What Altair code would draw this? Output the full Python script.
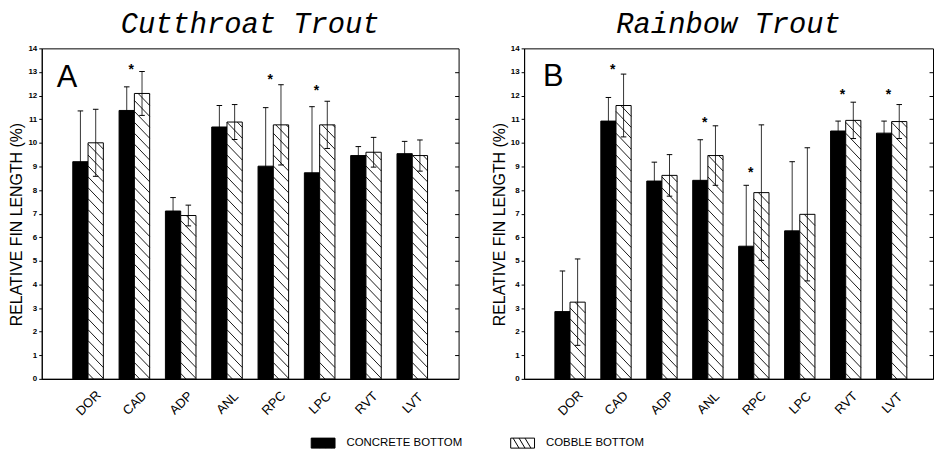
import altair as alt
import pandas as pd

# ---------------- data ----------------
fins = ["DOR", "CAD", "ADP", "ANL", "RPC", "LPC", "RVT", "LVT"]
bottoms = ["CONCRETE BOTTOM", "COBBLE BOTTOM"]

cut_concrete_mean = [9.20, 11.37, 7.11, 10.67, 9.01, 8.73, 9.46, 9.54]
cut_concrete_sd = [2.15, 1.00, 0.57, 0.91, 2.48, 2.80, 0.38, 0.52]
cut_cobble_mean = [10.00, 12.09, 6.92, 10.88, 10.76, 10.76, 9.60, 9.46]
cut_cobble_sd = [1.42, 0.93, 0.44, 0.74, 1.70, 1.00, 0.63, 0.66]
cut_star_fins = ["CAD", "RPC", "LPC"]
cut_star_height = [13.23, 12.83, 12.37]

rb_concrete_mean = [2.85, 10.92, 8.38, 8.41, 5.62, 6.27, 10.50, 10.41]
rb_concrete_sd = [1.72, 1.00, 0.80, 1.72, 2.58, 2.93, 0.42, 0.51]
rb_cobble_mean = [3.25, 11.58, 8.62, 9.46, 7.89, 6.97, 10.95, 10.90]
rb_cobble_sd = [1.83, 1.33, 0.88, 1.26, 2.87, 2.82, 0.77, 0.72]
rb_star_fins = ["CAD", "ANL", "RPC", "RVT", "LVT"]
rb_star_height = [13.23, 11.02, 8.90, 12.18, 12.20]

y_ticks = list(range(0, 15))
right_ticks = list(range(1, 14))

# ---------------- styling constants ----------------
PLOT_H = 333
Y_MAX = 14
BAR_W = 0.33
KY = PLOT_H / Y_MAX          # px per y unit
HATCH_STEP = 11.0           # px between hatch lines
HATCH_DROP = 16.0           # px a hatch line falls across one bar
SWATCH = "M-1,-0.42H1V0.42H-1Z M-0.8,-0.42L-0.3,0.42 M-0.3,-0.42L0.2,0.42 M0.2,-0.42L0.7,0.42"


def hatch_segments(means):
    segs = []
    for i, v in enumerate(means):
        h = v * KY
        c = HATCH_STEP / 2
        while c < h + HATCH_DROP:
            t0 = max(0.0, (c - h) / HATCH_DROP)
            t1 = min(1.0, c / HATCH_DROP)
            if t1 > t0:
                segs.append({
                    "hx1": i + t0 * BAR_W, "hy1": (c - HATCH_DROP * t0) / KY,
                    "hx2": i + t1 * BAR_W, "hy2": (c - HATCH_DROP * t1) / KY,
                })
            c += HATCH_STEP
    return pd.DataFrame(segs)


label_expr = "[" + ",".join(f"'{f}'" for f in fins) + "][datum.value]"

legend_a = alt.Legend(
    title=None, orient="none", legendX=271, legendY=385, direction="horizontal",
    symbolType=SWATCH, symbolSize=576, symbolStrokeColor="black", symbolStrokeWidth=1,
    labelFontSize=11.5, labelFont="Liberation Sans", labelColor="black",
    labelOffset=11, columnPadding=46,
)


def build_panel(title, letter, lx, ly, c_mean, c_sd, k_mean, k_sd, star_fins, star_h,
                width, x_max, legend):
    n = len(fins)
    bars = pd.DataFrame({
        "fin": fins * 2,
        "idx": list(range(n)) * 2,
        "bottom": [bottoms[0]] * n + [bottoms[1]] * n,
        "mean": c_mean + k_mean,
        "sd": c_sd + k_sd,
    })
    base = (
        alt.Chart(bars)
        .transform_calculate(x0=f"datum.idx - (datum.bottom === '{bottoms[0]}' ? {BAR_W} : 0)")
        .transform_calculate(x1=f"datum.x0 + {BAR_W}")
        .transform_calculate(xc=f"datum.x0 + {BAR_W / 2}")
        .transform_calculate(cl="datum.xc - 0.06")
        .transform_calculate(cr="datum.xc + 0.06")
        .transform_calculate(lo="datum.mean - datum.sd")
        .transform_calculate(hi="datum.mean + datum.sd")
        .transform_calculate(zero="0")
    )
    xscale = alt.Scale(domain=[-1, x_max], nice=False, zero=False)
    yscale = alt.Scale(domain=[0, Y_MAX], nice=False)
    xaxis = alt.Axis(
        values=list(range(n)), labelExpr=label_expr, title=None, labelAngle=-45,
        labelAlign="center", labelBaseline="middle", labelPadding=24, tickSize=0,
        labelFontSize=13, labelFont="Liberation Sans", domainWidth=1.5,
        labelOverlap=False, grid=False,
    )
    yaxis = alt.Axis(
        values=y_ticks, title="RELATIVE FIN LENGTH (%)", titleFontSize=16,
        titleFontWeight="normal", titleFont="Liberation Sans", titlePadding=3,
        titleY=177,
        labelFontSize=8, labelFontWeight="bold", labelFont="Liberation Sans",
        tickSize=3, labelPadding=2, grid=False, labelOverlap=False,
    )
    raxis = alt.Axis(
        orient="right", values=right_ticks, labels=False, domain=False, title=None,
        tickSize=4, offset=-4, grid=False,
    )

    rects = base.mark_rect(stroke="black", strokeWidth=1).encode(
        x=alt.X("x0:Q", scale=xscale, axis=xaxis),
        x2="x1:Q",
        y=alt.Y("mean:Q", scale=yscale, axis=yaxis),
        y2="zero:Q",
        fill=alt.Fill("bottom:N", scale=alt.Scale(domain=bottoms, range=["black", "white"]), legend=legend),
    )
    hatch = alt.Chart(hatch_segments(k_mean)).mark_rule(color="black", strokeWidth=0.9).encode(
        x=alt.X("hx1:Q", scale=xscale, axis=xaxis),
        x2="hx2:Q",
        y=alt.Y("hy1:Q", scale=yscale, axis=raxis),
        y2="hy2:Q",
    )
    err = base.mark_rule(color="black", strokeWidth=0.8).encode(
        x=alt.X("xc:Q", scale=xscale, axis=xaxis),
        y=alt.Y("lo:Q", scale=yscale, axis=None),
        y2="hi:Q",
    )
    cap_hi = base.mark_rule(color="black", strokeWidth=1).encode(
        x=alt.X("cl:Q", scale=xscale, axis=xaxis), x2="cr:Q",
        y=alt.Y("hi:Q", scale=yscale, axis=None),
    )
    cap_lo = base.mark_rule(color="black", strokeWidth=1).encode(
        x=alt.X("cl:Q", scale=xscale, axis=xaxis), x2="cr:Q",
        y=alt.Y("lo:Q", scale=yscale, axis=None),
    )
    stars_df = pd.DataFrame({"idx": [fins.index(f) for f in star_fins], "h": star_h})
    stars = (
        alt.Chart(stars_df)
        .transform_calculate(xs="datum.idx - 0.07")
        .mark_text(text="*", fontSize=14, fontWeight="bold", font="Liberation Sans",
                   baseline="alphabetic", dy=8, color="black")
        .encode(x=alt.X("xs:Q", scale=xscale, axis=xaxis), y=alt.Y("h:Q", scale=yscale, axis=None))
    )
    letter_layer = alt.Chart(pd.DataFrame({"t": [letter]})).mark_text(
        align="left", baseline="alphabetic", fontSize=31, font="Liberation Sans", color="black"
    ).encode(text="t:N", x=alt.value(lx), y=alt.value(ly))

    return (
        alt.layer(rects, hatch, err, cap_hi, cap_lo, stars, letter_layer)
        .resolve_axis(y="independent")
        .properties(
            width=width, height=PLOT_H,
            title=alt.TitleParams(
                text=title, font="Liberation Mono", fontStyle="italic", fontSize=29,
                fontWeight="normal", anchor="middle", offset=5, color="black",
            ),
        )
    )


panel_a = build_panel("Cutthroat Trout", "A", 15, 39, cut_concrete_mean, cut_concrete_sd,
                      cut_cobble_mean, cut_cobble_sd, cut_star_fins, cut_star_height, 420, 8,
                      legend_a)
panel_b = build_panel("Rainbow Trout", "B", 19, 38, rb_concrete_mean, rb_concrete_sd,
                      rb_cobble_mean, rb_cobble_sd, rb_star_fins, rb_star_height, 412, 7.9,
                      None)

chart = (
    alt.hconcat(panel_a, panel_b, spacing=66, bounds="flush")
    .resolve_legend(fill="independent")
    .properties(padding={"left": 0, "top": 0, "right": 0, "bottom": 0}, background="white")
    .configure_view(stroke="black", strokeWidth=1)
    .configure_axis(domainColor="black", tickColor="black", labelColor="black",
                    titleColor="black", grid=False)
)

chart.save("out.html", embed_options={"renderer": "svg", "actions": False})
